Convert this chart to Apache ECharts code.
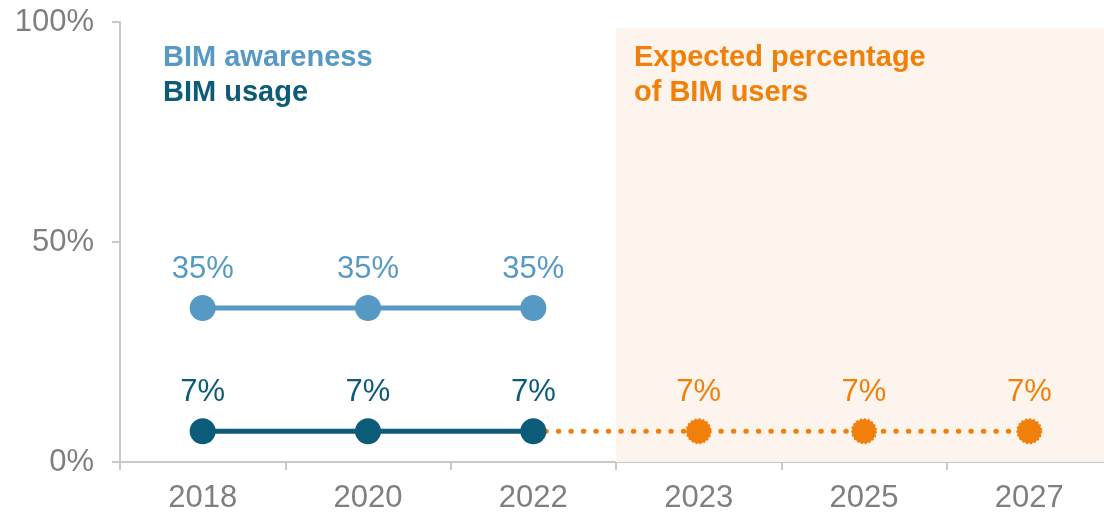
<!DOCTYPE html>
<html>
<head>
<meta charset="utf-8">
<script src="https://cdn.jsdelivr.net/npm/echarts@6/dist/echarts.min.js"></script>
<style>
  html, body { margin: 0; padding: 0; background: #fff; }
  #chart { width: 1104px; height: 516px; }
</style>
</head>
<body>
<div id="chart"></div>
<script>
const years = ["2018", "2020", "2022", "2023", "2025", "2027"];
const awareness = [35, 35, 35, null, null, null];
const usage = [7, 7, 7, null, null, null];
const expected = [null, null, 7, 7, 7, 7];
// shaded forecast band (2023 onwards)
const forecastBand = [null, null, null, 98.6, 98.6, 98.6];
const yTicks = [0, 50, 100];

const FONT = "Liberation Sans, Arial, sans-serif";
const C_AWARE = "#5699c4";
const C_USAGE = "#0c5b78";
const C_EXP = "#f08009";
const C_AXIS = "#7f7f7f";

const chart = echarts.init(document.getElementById("chart"));

const pctLabel = (color) => ({
  show: true,
  position: "top",
  distance: 10,
  formatter: (p) => p.value + "%",
  color: color,
  fontSize: 31,
  fontFamily: FONT,
});

chart.setOption({
  animation: false,
  backgroundColor: "#fff",
  grid: { left: 120, width: 992, top: 22, bottom: 54, outerBoundsMode: "none", containLabel: false },
  xAxis: {
    type: "category",
    data: years,
    boundaryGap: true,
    axisLine: { lineStyle: { color: "#c8c8c8", width: 2 } },
    axisTick: { show: true, length: 8, lineStyle: { color: "#c8c8c8", width: 2 } },
    axisLabel: { color: C_AXIS, fontSize: 31, fontFamily: FONT, margin: 21 },
  },
  yAxis: {
    type: "value",
    min: yTicks[0],
    max: yTicks[yTicks.length - 1],
    interval: 50,
    axisLine: { show: true, lineStyle: { color: "#c8c8c8", width: 2 } },
    axisTick: { show: true, length: 8, lineStyle: { color: "#c8c8c8", width: 2 } },
    splitLine: { show: false },
    axisLabel: {
      color: C_AXIS,
      fontSize: 31,
      fontFamily: FONT,
      margin: 26,
      formatter: "{value}%",
    },
  },
  graphic: [
    {
      type: "text", left: 163, top: 43, z: 20,
      style: { text: "BIM awareness", fill: C_AWARE, font: "bold 29px " + FONT },
    },
    {
      type: "text", left: 163, top: 78, z: 20,
      style: { text: "BIM usage", fill: C_USAGE, font: "bold 29px " + FONT },
    },
    {
      type: "text", left: 634, top: 43, z: 20,
      style: { text: "Expected percentage", fill: C_EXP, font: "bold 29px " + FONT },
    },
    {
      type: "text", left: 634, top: 78, z: 20,
      style: { text: "of BIM users", fill: C_EXP, font: "bold 29px " + FONT },
    },
  ],
  series: [
    {
      name: "band",
      type: "bar",
      data: forecastBand,
      barWidth: "100%",
      silent: true,
      z: 0,
      itemStyle: { color: "#fdf4ed" },
    },
    {
      name: "Expected percentage of BIM users",
      type: "line",
      z: 2,
      data: expected.map((v, i) =>
        i === 2 ? { value: v, symbol: "none", label: { show: false } } : v
      ),
      symbol: "circle",
      symbolSize: 24,
      lineStyle: { color: C_EXP, width: 5, type: [0.5, 12], cap: "round" },
      itemStyle: { color: C_EXP, borderColor: C_EXP, borderWidth: 2, borderType: "dotted" },
      label: pctLabel(C_EXP),
    },
    {
      name: "BIM awareness",
      type: "line",
      z: 3,
      data: awareness,
      symbol: "circle",
      symbolSize: 26,
      lineStyle: { color: C_AWARE, width: 5 },
      itemStyle: { color: C_AWARE },
      label: pctLabel(C_AWARE),
    },
    {
      name: "BIM usage",
      type: "line",
      z: 3,
      data: usage,
      symbol: "circle",
      symbolSize: 26,
      lineStyle: { color: C_USAGE, width: 5 },
      itemStyle: { color: C_USAGE },
      label: pctLabel(C_USAGE),
    },
  ],
});
</script>
</body>
</html>
